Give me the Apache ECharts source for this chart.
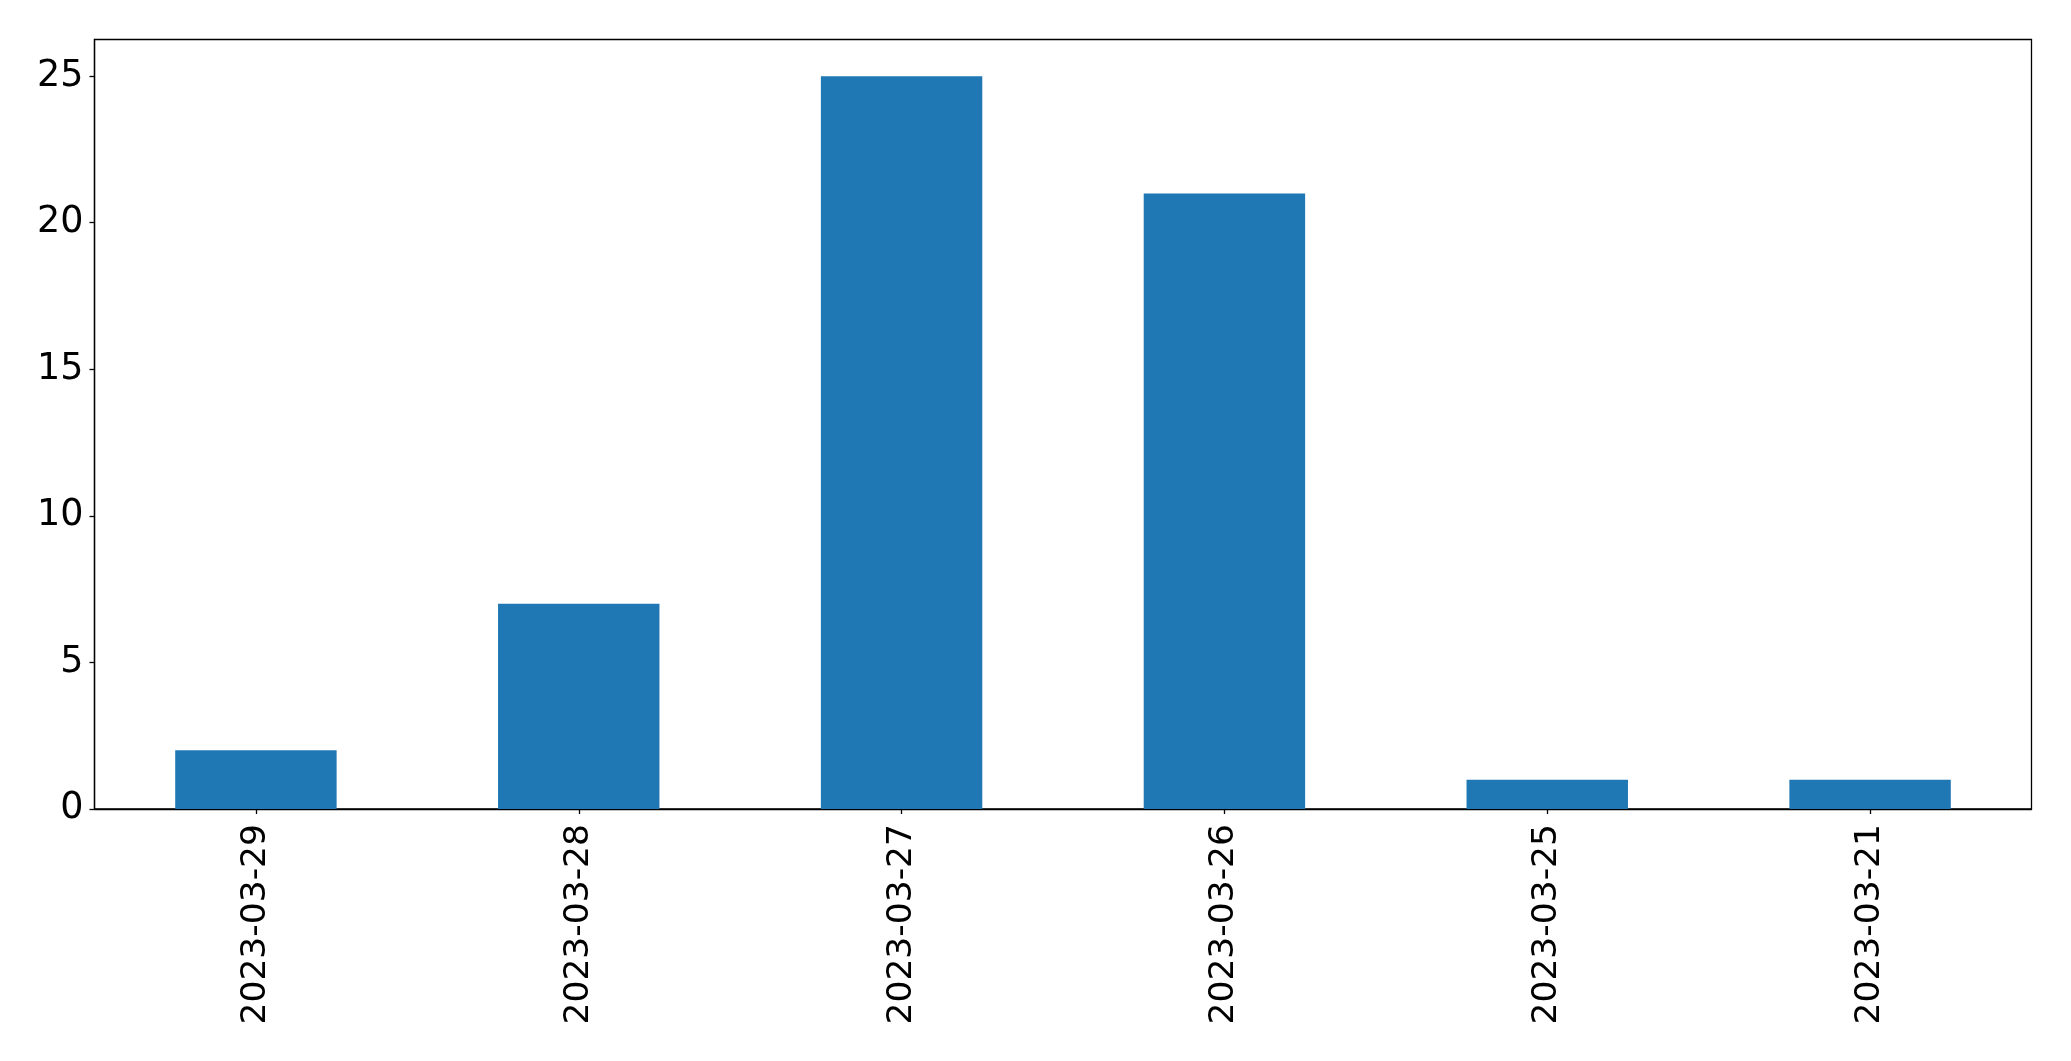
<!DOCTYPE html>
<html>
<head>
<meta charset="utf-8">
<script src="https://cdn.jsdelivr.net/npm/echarts@6/dist/echarts.min.js"></script>
<style>
html,body{margin:0;padding:0;background:#fff;}
#chart{width:2071px;height:1061px;}
</style>
</head>
<body>
<div id="chart"></div>
<script>
const categories = ["2023-03-29","2023-03-28","2023-03-27","2023-03-26","2023-03-25","2023-03-21"];
const values = [2, 7, 25, 21, 1, 1];
const yTicks = [0, 5, 10, 15, 20, 25];

const chart = echarts.init(document.getElementById('chart'), null, {renderer: 'canvas'});
const font = 'DejaVu Sans';
chart.setOption({
  animation: false,
  backgroundColor: '#ffffff',
  grid: {
    left: 94.5, right: 39.5, top: 39.5, bottom: 252,
    show: true, borderColor: '#000', borderWidth: 1.3, backgroundColor: 'transparent'
  },
  xAxis: {
    type: 'category',
    data: categories,
    boundaryGap: true,
    axisLine: {show: true, lineStyle: {color: '#000', width: 1.3}},
    axisTick: {show: true, alignWithLabel: true, length: 5, lineStyle: {color: '#000', width: 1.3}},
    axisLabel: {rotate: 90, margin: 15, fontFamily: font, fontSize: 34.5, color: '#000'},
    splitLine: {show: false}
  },
  yAxis: {
    type: 'value',
    min: 0, max: 26.25, interval: 5,
    axisLine: {show: true, lineStyle: {color: '#000', width: 1.3}},
    axisTick: {show: true, length: 5, customValues: yTicks, lineStyle: {color: '#000', width: 1.3}},
    axisLabel: {margin: 11, fontFamily: font, fontSize: 36.5, color: '#000', customValues: yTicks},
    splitLine: {show: false}
  },
  series: [{
    type: 'bar',
    data: values,
    barWidth: '50%',
    itemStyle: {color: '#1f77b4'}
  }]
});
</script>
</body>
</html>
